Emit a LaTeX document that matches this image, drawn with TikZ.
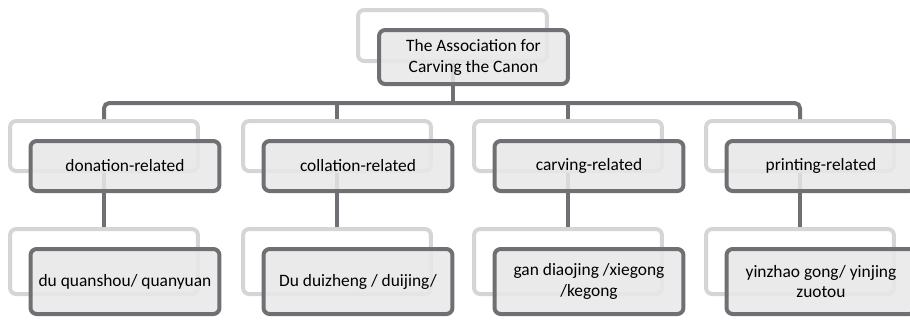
\documentclass[tikz,border=0pt]{standalone}
\usepackage{fontspec}
\setmainfont{Carlito}
\usepackage{tikz}
\usetikzlibrary{shapes,positioning,calc}

\definecolor{boxdark}{HTML}{6F7073}
\definecolor{boxfill}{HTML}{E8E8E9}
\definecolor{boxlight}{HTML}{D5D5D6}

\begin{document}
\begin{tikzpicture}[x=0.02cm, y=-0.02cm,
  back/.style={draw=boxlight, line width=0.08cm, fill=white, rounded corners=3.5pt, minimum width=3.76cm, minimum height=1cm},
  front/.style={draw=boxdark, line width=0.08cm, fill=boxfill, fill opacity=0.88, text opacity=1, rounded corners=3.5pt,
    minimum width=3.78cm, minimum height=1cm, align=center, font=\fontsize{9.9pt}{11.9pt}\selectfont},
  tall/.style={minimum height=1.3cm},
  link/.style={draw=boxdark, line width=0.08cm}]
\useasboundingbox (0,0) rectangle (910,322);
\clip (0,0) rectangle (910,322);

% 背景框
\node[back, minimum width=3.78cm, minimum height=1.02cm] (topb) at (452.5,35.5) {};
\node[back] (d2b) at (104,146) {};
\node[back] (c2b) at (337,146) {};
\node[back] (v2b) at (568,146) {};
\node[back] (p2b) at (800,146) {};
\node[back, tall] (d3b) at (104,261.5) {};
\node[back, tall] (c3b) at (337,261.5) {};
\node[back, tall] (v3b) at (568,261.5) {};
\node[back, tall] (p3b) at (800,261.5) {};

% 连接线
\coordinate (bar) at (452.5,103);
\draw[link] (topb.south) -- (bar);
\draw[link, rounded corners=3pt] (d2b.north) |- (bar) -| (p2b.north);
\draw[link] (c2b.north) -- (c2b.north |- bar);
\draw[link] (v2b.north) -- (v2b.north |- bar);
\draw[link] (d2b.south) -- (d3b.north);
\draw[link] (c2b.south) -- (c3b.north);
\draw[link] (v2b.south) -- (v3b.north);
\draw[link] (p2b.south) -- (p3b.north);

% 前景框
\node[front, minimum height=1.08cm] (top) at (473.5,57) {The Association for\\Carving the Canon};
\node[front] (d2) at (125,166) {donation-related};
\node[front] (c2) at (358,166) {collation-related};
\node[front] (v2) at (589,166) {carving-related};
\node[front] (p2) at (821,166) {printing-related};
\node[front, tall] (d3) at (125,281.5) {du quanshou/ quanyuan};
\node[front, tall] (c3) at (358,281.5) {Du duizheng / duijing/};
\node[front, tall] (v3) at (589,281.5) {gan diaojing /xiegong\\/kegong};
\node[front, tall] (p3) at (821,281.5) {yinzhao gong/ yinjing\\zuotou};
\end{tikzpicture}
\end{document}
